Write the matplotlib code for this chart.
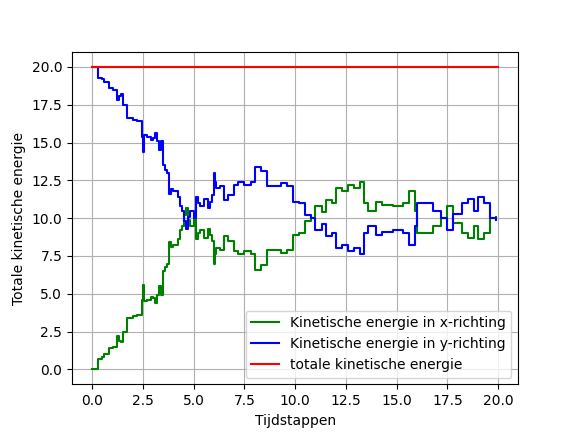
import matplotlib
matplotlib.use("Agg")
import matplotlib.pyplot as plt
import numpy as np

t = [0.0, 0.3, 0.5, 0.6, 0.8, 1.0, 1.2, 1.3, 1.4, 1.5, 1.7, 2.0, 2.2, 2.45, 2.5, 2.55, 2.7, 2.9, 3.0, 3.1,
     3.2, 3.3, 3.4, 3.5, 3.6, 3.7, 3.8, 3.9, 4.0, 4.2, 4.3, 4.4, 4.5, 4.6, 4.7, 4.8, 5.0, 5.1, 5.2,
     5.3, 5.5, 5.7, 5.8, 5.9, 6.0, 6.05, 6.1, 6.3, 6.5, 6.7, 7.0, 7.2, 7.5, 7.8, 8.0, 8.3, 8.6, 9.3,
     9.6, 9.9, 10.2, 10.5, 10.8, 11.0, 11.3, 11.5, 11.8, 12.0, 12.3, 12.6, 12.9, 13.2, 13.4, 13.6,
     14.0, 14.3, 14.8, 15.3, 15.6, 15.9, 16.0, 16.5, 16.8, 17.2, 17.5, 17.8, 18.2, 18.5, 18.8, 19.0,
     19.3, 19.6, 19.9]
ekin_x = [0.0, 0.7, 0.8, 1.0, 1.4, 1.5, 2.2, 1.9, 1.8, 2.5, 3.4, 3.5, 3.6, 4.6, 5.6, 4.5, 4.6, 4.8, 4.7, 4.4,
          4.9, 5.5, 4.9, 6.5, 6.8, 7.0, 8.4, 8.1, 8.2, 8.6, 9.2, 9.5, 10.2, 10.7, 9.9, 9.5, 10.0, 8.6, 9.0,
          9.2, 8.7, 9.3, 8.9, 8.5, 7.0, 7.6, 8.0, 7.9, 8.8, 8.5, 7.8, 7.6, 7.8, 7.6, 6.6, 6.9, 7.9, 7.7,
          7.9, 8.9, 9.0, 9.8, 10.0, 10.8, 10.4, 11.2, 11.0, 12.0, 11.8, 12.2, 12.0, 12.4, 11.0, 10.5,
          11.1, 10.9, 10.8, 11.0, 11.8, 10.5, 9.0, 9.0, 9.5, 10.0, 10.8, 9.7, 9.0, 8.7, 9.5, 8.6,
          9.0, 10.0, 10.1]
e_totaal = 20.0

t = np.array(t)
ekin_x = np.array(ekin_x)
ekin_y = e_totaal - ekin_x

fig, ax = plt.subplots(figsize=(5.76, 4.32), dpi=100)
ax.plot(t, ekin_x, color="green", drawstyle="steps-post", label="Kinetische energie in x-richting")
ax.plot(t, ekin_y, color="blue", drawstyle="steps-post", label="Kinetische energie in y-richting")
ax.plot([t[0], 20.0], [e_totaal, e_totaal], color="red", label="totale kinetische energie")
ax.set_xlabel("Tijdstappen")
ax.set_ylabel("Totale kinetische energie")
ax.grid()
ax.legend(loc="lower right")
plt.savefig("out.png")
